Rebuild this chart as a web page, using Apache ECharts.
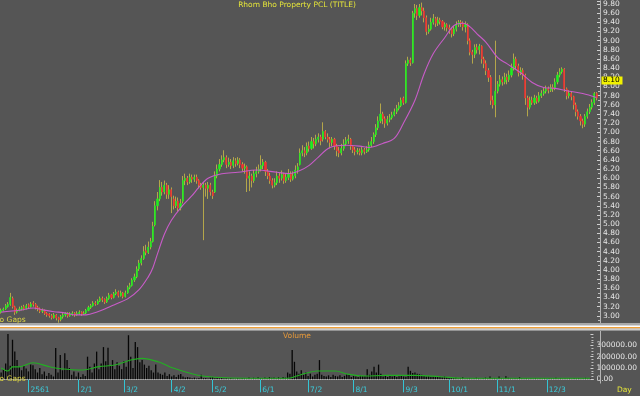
<!DOCTYPE html>
<html><head><meta charset="utf-8">
<script src="https://cdn.jsdelivr.net/npm/echarts@6/dist/echarts.min.js"></script>
<style>html,body{margin:0;padding:0;background:#555555;overflow:hidden}#c{width:640px;height:396px}</style>
</head><body><div id="c"></div>
<script>
const opens=[
3.08,3.12,3.15,3.20,3.25,3.38,3.20,3.08,3.12,3.15,
3.20,3.16,3.24,3.20,3.28,3.25,3.18,3.15,3.10,3.12,
3.05,3.04,3.00,2.96,3.02,2.96,2.92,2.98,3.02,3.05,
3.00,3.04,3.06,3.02,3.05,3.08,3.04,3.06,3.12,3.18,
3.22,3.28,3.26,3.32,3.38,3.36,3.30,3.38,3.46,3.40,
3.48,3.52,3.44,3.50,3.42,3.50,3.62,3.66,3.78,3.85,
4.02,4.15,4.25,4.42,4.38,4.50,4.62,4.98,5.40,5.55,
5.80,5.70,5.85,5.65,5.75,5.55,5.40,5.50,5.35,5.50,
5.95,6.00,5.92,6.02,5.98,6.02,5.95,5.85,5.80,5.85,
5.78,5.85,5.70,5.70,6.05,6.20,6.30,6.40,6.45,6.30,
6.35,6.28,6.38,6.32,6.40,6.30,6.22,6.25,6.00,6.05,
5.95,6.10,6.15,6.20,6.28,6.35,6.15,6.05,5.95,5.85,
5.90,6.05,6.00,6.08,5.95,6.02,6.10,5.98,6.05,6.18,
6.30,6.55,6.60,6.55,6.70,6.65,6.80,6.75,6.85,6.90,
6.85,7.02,6.90,6.85,6.78,6.85,6.70,6.60,6.55,6.65,
6.75,6.82,6.85,6.70,6.62,6.58,6.60,6.55,6.62,6.58,
6.62,6.72,6.80,6.95,7.10,7.25,7.40,7.30,7.20,7.28,
7.32,7.38,7.45,7.52,7.58,7.75,7.65,8.50,8.58,8.52,
9.60,9.70,9.55,9.72,9.65,9.50,9.20,9.25,9.40,9.48,
9.38,9.45,9.42,9.30,9.35,9.28,9.25,9.15,9.25,9.35,
9.40,9.38,9.30,9.35,9.00,8.75,8.70,8.85,8.80,8.88,
8.60,8.50,8.35,8.20,7.70,7.60,7.90,8.05,8.15,8.10,
8.20,8.15,8.25,8.40,8.60,8.45,8.30,8.35,8.25,7.75,
7.55,7.70,7.65,7.75,7.68,7.80,7.85,7.90,7.95,7.92,
7.98,7.95,8.10,8.25,8.32,8.38,7.95,7.80,7.85,7.78,
7.60,7.45,7.35,7.25,7.18,7.35,7.45,7.55,7.65,7.85];
const closes=[
3.12,3.15,3.22,3.25,3.40,3.20,3.08,3.12,3.15,3.18,
3.16,3.22,3.20,3.26,3.25,3.18,3.15,3.10,3.12,3.05,
3.02,3.00,2.96,3.02,2.95,2.92,2.98,3.02,3.05,3.00,
3.04,3.06,3.02,3.05,3.08,3.04,3.06,3.12,3.18,3.22,
3.28,3.26,3.32,3.38,3.35,3.30,3.38,3.45,3.40,3.48,
3.52,3.44,3.50,3.42,3.50,3.62,3.66,3.78,3.85,4.02,
4.15,4.25,4.40,4.38,4.50,4.62,4.95,5.40,5.55,5.80,
5.70,5.85,5.65,5.75,5.60,5.40,5.50,5.35,5.45,5.95,
6.00,5.92,6.02,5.98,6.02,5.95,5.85,5.80,5.85,5.78,
5.85,5.70,5.62,6.05,6.20,6.30,6.40,6.45,6.30,6.35,
6.28,6.38,6.32,6.40,6.30,6.22,6.25,6.00,6.05,5.95,
6.10,6.15,6.20,6.28,6.35,6.15,6.05,5.95,5.85,5.90,
6.05,6.00,6.08,5.95,6.02,6.10,5.98,6.05,6.18,6.25,
6.55,6.60,6.55,6.70,6.65,6.80,6.75,6.85,6.90,6.82,
7.02,6.90,6.85,6.78,6.85,6.70,6.60,6.55,6.65,6.75,
6.82,6.85,6.70,6.62,6.58,6.60,6.55,6.62,6.58,6.62,
6.72,6.80,6.95,7.10,7.25,7.40,7.30,7.20,7.28,7.32,
7.38,7.45,7.52,7.58,7.70,7.65,8.50,8.58,8.52,9.60,
9.70,9.55,9.72,9.65,9.50,9.20,9.25,9.40,9.48,9.38,
9.45,9.42,9.30,9.35,9.28,9.25,9.15,9.25,9.35,9.40,
9.38,9.30,9.35,9.00,8.75,8.70,8.85,8.80,8.88,8.60,
8.50,8.35,8.20,7.70,7.60,7.90,8.05,8.15,8.10,8.20,
8.15,8.25,8.40,8.60,8.45,8.30,8.35,8.25,7.75,7.55,
7.70,7.65,7.75,7.68,7.80,7.85,7.90,7.95,7.92,7.98,
7.95,8.10,8.25,8.32,8.38,7.95,7.80,7.85,7.78,7.60,
7.45,7.35,7.25,7.18,7.35,7.45,7.55,7.65,7.85,7.75];
const highs=[
3.16,3.18,3.26,3.30,3.50,3.42,3.22,3.16,3.20,3.22,
3.24,3.26,3.27,3.30,3.32,3.28,3.22,3.18,3.16,3.14,
3.08,3.06,3.04,3.06,3.04,2.98,3.02,3.06,3.08,3.08,
3.08,3.10,3.08,3.10,3.12,3.10,3.10,3.15,3.22,3.26,
3.32,3.32,3.36,3.42,3.42,3.38,3.42,3.50,3.48,3.52,
3.58,3.55,3.55,3.52,3.55,3.66,3.72,3.82,3.92,4.08,
4.22,4.32,4.52,4.55,4.62,4.70,5.05,5.50,5.70,5.96,
5.92,5.95,5.90,5.85,5.80,5.62,5.60,5.58,5.55,6.05,
6.10,6.05,6.10,6.08,6.08,6.08,5.98,5.90,5.92,5.90,
5.92,5.90,5.75,6.15,6.30,6.42,6.50,6.61,6.50,6.45,
6.42,6.46,6.44,6.46,6.44,6.35,6.32,6.28,6.15,6.10,
6.18,6.25,6.30,6.50,6.42,6.38,6.20,6.12,6.00,6.00,
6.15,6.12,6.17,6.12,6.10,6.20,6.15,6.15,6.28,6.33,
6.65,6.72,6.68,6.78,6.80,6.90,6.88,6.95,6.98,6.95,
7.22,7.05,6.98,6.90,6.90,6.88,6.75,6.68,6.75,6.85,
6.90,6.95,6.88,6.72,6.68,6.66,6.65,6.68,6.66,6.70,
6.80,6.90,7.00,7.18,7.35,7.63,7.45,7.35,7.36,7.40,
7.45,7.52,7.60,7.66,7.76,7.78,8.57,8.65,8.63,9.65,
9.80,9.78,9.80,9.83,9.72,9.55,9.35,9.50,9.58,9.52,
9.52,9.50,9.45,9.40,9.38,9.35,9.28,9.32,9.42,9.45,
9.45,9.42,9.42,9.38,9.05,8.80,8.92,8.93,8.93,8.90,
8.65,8.57,8.40,8.25,7.80,9.00,8.12,8.25,8.22,8.30,
8.28,8.35,8.50,8.72,8.65,8.50,8.42,8.40,8.28,7.80,
7.78,7.78,7.82,7.80,7.88,7.92,7.98,8.02,8.00,8.05,
8.05,8.18,8.32,8.40,8.42,8.40,7.98,7.92,7.90,7.80,
7.65,7.50,7.40,7.30,7.40,7.52,7.62,7.72,7.88,7.88];
const lows=[
3.05,3.10,3.13,3.18,3.22,3.16,3.02,3.05,3.10,3.12,
3.12,3.14,3.16,3.18,3.20,3.14,3.10,3.06,3.06,3.02,
2.98,2.96,2.92,2.94,2.90,2.85,2.88,2.94,2.98,2.96,
2.98,3.00,2.98,3.00,3.02,3.00,3.02,3.04,3.10,3.15,
3.20,3.22,3.24,3.30,3.30,3.26,3.28,3.35,3.36,3.38,
3.45,3.40,3.42,3.38,3.40,3.48,3.58,3.64,3.74,3.82,
3.98,4.10,4.22,4.32,4.35,4.45,4.60,4.95,5.30,5.50,
5.62,5.65,5.55,5.55,5.24,5.32,5.35,5.28,5.30,5.45,
5.85,5.85,5.88,5.90,5.92,5.88,5.78,5.75,4.65,5.60,
5.55,5.62,5.55,5.68,6.00,6.15,6.25,6.35,6.22,6.25,
6.20,6.22,6.25,6.28,6.22,6.15,6.10,5.70,5.72,5.80,
5.90,6.02,6.10,6.15,6.20,6.05,5.98,5.88,5.78,5.80,
5.85,5.90,5.95,5.88,5.90,5.96,5.92,5.95,6.00,6.10,
6.28,6.48,6.46,6.50,6.58,6.62,6.65,6.70,6.78,6.72,
6.80,6.85,6.78,6.65,6.70,6.62,6.48,6.46,6.50,6.60,
6.70,6.75,6.62,6.55,6.50,6.52,6.50,6.50,6.52,6.55,
6.58,6.68,6.75,6.90,7.05,7.20,7.18,7.10,7.15,7.22,
7.28,7.35,7.40,7.48,7.55,7.60,7.63,8.45,8.45,8.50,
9.50,9.45,9.50,9.55,9.40,9.12,9.15,9.22,9.35,9.30,
9.32,9.35,9.25,9.22,9.20,9.15,9.07,9.10,9.20,9.30,
9.30,9.22,9.18,8.92,8.68,8.50,8.62,8.72,8.70,8.50,
8.40,8.25,8.10,7.60,7.52,7.33,7.85,8.00,8.02,8.05,
8.05,8.10,8.20,8.35,8.38,8.22,8.25,8.15,7.60,7.35,
7.50,7.60,7.60,7.62,7.65,7.75,7.80,7.85,7.85,7.88,
7.88,7.92,8.05,8.20,8.28,7.88,7.72,7.74,7.70,7.50,
7.35,7.28,7.15,7.09,7.12,7.30,7.40,7.50,7.60,7.70];
const volumes=[
60000,90000,140000,400000,120000,350000,245000,170000,110000,80000,
120000,95000,70000,130000,125000,90000,60000,100000,45000,70000,
30000,55000,40000,25000,277000,60000,215000,80000,230000,170000,
100000,40000,70000,25000,60000,20000,45000,30000,200000,110000,
60000,140000,245000,90000,140000,285000,160000,280000,120000,170000,
90000,150000,120000,90000,160000,110000,390000,200000,100000,330000,
285000,150000,170000,130000,100000,120000,80000,60000,130000,60000,
50000,40000,60000,30000,45000,25000,35000,20000,40000,47000,
25000,15000,20000,15000,10000,15000,8000,12000,40000,10000,
12000,8000,15000,20000,10000,14000,9000,12000,7000,10000,
6000,12000,8000,5000,10000,7000,12000,9000,6000,15000,
8000,14000,10000,18000,12000,9000,15000,11000,20000,13000,
16000,10000,18000,12000,20000,15000,60000,50000,260000,155000,
70000,50000,80000,40000,60000,30000,50000,25000,40000,50000,
170000,40000,30000,25000,35000,20000,40000,30000,25000,35000,
20000,30000,45000,40000,20000,30000,25000,20000,35000,30000,
30000,90000,40000,70000,110000,60000,130000,50000,25000,30000,
20000,35000,25000,30000,20000,28000,30000,25000,22000,110000,
75000,55000,60000,50000,45000,40000,30000,25000,28000,22000,
25000,20000,30000,22000,18000,25000,20000,15000,18000,12000,
15000,10000,12000,18000,8000,10000,12000,7000,9000,14000,
10000,8000,12000,15000,9000,25000,10000,12000,8000,25000,
11000,7000,28000,14000,9000,8000,12000,10000,18000,9000,
7000,10000,6000,9000,8000,11000,7000,9000,6000,10000,
8000,12000,9000,10000,14000,8000,10000,7000,9000,6000,
10000,8000,12000,9000,11000,8000,10000,13000,9000,7000];
const priceMA=[[0,3.08],[8,3.12],[14,3.17],[18,3.13],[23,3.09],[27,3.07],[33,3.02],[37,3.02],[42,3.09],[46,3.17],[50,3.26],[55,3.37],[60,3.57],[64,3.85],[66,4.05],[68,4.35],[71,4.78],[74,5.08],[78,5.35],[83,5.62],[86,5.80],[90,6.00],[96,6.10],[103,6.13],[111,6.18],[120,6.13],[125,6.10],[130,6.17],[134,6.28],[138,6.46],[143,6.67],[150,6.72],[156,6.70],[160,6.67],[166,6.76],[171,6.87],[175,7.20],[180,7.70],[184,8.28],[188,8.72],[193,9.07],[197,9.33],[201,9.38],[204,9.30],[207,9.15],[211,8.96],[216,8.63],[220,8.50],[226,8.30],[231,8.09],[236,7.98],[241,7.96],[246,7.91],[253,7.85],[259,7.76]];
const volumeMA=[[0,100000],[3,73000],[5,110000],[8,110000],[14,147000],[21,112000],[26,94000],[36,82000],[43,112000],[50,127000],[57,170000],[62,185000],[69,155000],[76,97000],[86,38000],[94,18000],[108,9000],[126,9000],[130,29000],[134,53000],[139,73000],[147,73000],[152,47000],[160,29000],[169,35000],[182,35000],[193,23000],[204,9000],[259,9000]];
const tickIndex=[12,34,54,75,93,114,135,155,177,197,218,240];
const tickLabels=['2561','2/1','3/2','4/2','5/2','6/1','7/2','8/1','9/3','10/1','11/1','12/3'];
const slotCount=261;

const cats=[];for(let i=0;i<slotCount;i++)cats.push(String(i));
const labelMap={};tickIndex.forEach((t,k)=>{labelMap[t]=tickLabels[k];});
const fullCandles=opens.map((o,i)=>[o,closes[i],lows[i],highs[i]]);
const bodies=opens.map((o,i)=>[o,closes[i],Math.min(o,closes[i]),Math.max(o,closes[i])]);
const FONT='DejaVu Sans';
const OLIVE='#b4a64a';
const GREEN='#1ef01e';
const RED='#f03030';
const chart=echarts.init(document.getElementById('c'),null,{renderer:'canvas'});
chart.setOption({
 animation:false,
 backgroundColor:'#555555',
 grid:[{left:0,top:0,width:600,height:325},{left:0,top:334.1,width:600,height:45.2}],
 xAxis:[
  {type:'category',data:cats,gridIndex:0,boundaryGap:true,axisLine:{show:false},axisTick:{show:false},axisLabel:{show:false},splitLine:{show:false}},
  {type:'category',data:cats,gridIndex:1,boundaryGap:true,offset:3.7,
   axisLine:{show:true,lineStyle:{color:'#b4b4b4',width:1}},
   axisTick:{show:true,alignWithLabel:true,length:13,interval:(i)=>labelMap[i]!==undefined,lineStyle:{color:'#34c4d4',width:1}},
   axisLabel:{show:true,interval:(i)=>labelMap[i]!==undefined,formatter:(v,i)=>labelMap[i]||'',color:'#3cccdc',fontFamily:FONT,fontSize:7.5,align:'left',margin:3,padding:[0,0,0,2]},
   splitLine:{show:false}}
 ],
 yAxis:[
  {type:'value',gridIndex:0,position:'right',min:2.8,max:9.87,interval:0.2,
   axisLine:{show:true,lineStyle:{color:'#b4b4b4'}},
   axisTick:{show:true,inside:true,length:3,lineStyle:{color:'#cfcfcf'}},
   minorTick:{show:true,splitNumber:2,length:2,lineStyle:{color:'#bdbdbd'}},
   axisLabel:{color:'#e6e6e6',fontFamily:FONT,fontSize:7.5,margin:3,showMinLabel:false,showMaxLabel:false,formatter:(v)=>v.toFixed(2)},
   splitLine:{show:false}},
  {type:'value',gridIndex:1,position:'right',min:0,max:400000,interval:100000,
   axisLine:{show:false},
   axisTick:{show:true,inside:true,length:3,lineStyle:{color:'#cfcfcf'}},
   minorTick:{show:true,splitNumber:4,length:2,lineStyle:{color:'#bdbdbd'}},
   axisLabel:{color:'#e6e6e6',fontFamily:FONT,fontSize:7.5,margin:3,showMaxLabel:false,formatter:(v)=>v.toFixed(2)},
   splitLine:{show:false}}
 ],
 series:[
  {type:'candlestick',name:'range',xAxisIndex:0,yAxisIndex:0,data:fullCandles,barWidth:1,silent:true,
   itemStyle:{color:OLIVE,color0:OLIVE,borderColor:OLIVE,borderColor0:OLIVE,borderColorDoji:OLIVE,borderWidth:1}},
  {type:'candlestick',name:'body',xAxisIndex:0,yAxisIndex:0,data:bodies,barWidth:1.6,silent:true,
   itemStyle:{color:GREEN,color0:RED,borderColor:GREEN,borderColor0:RED,borderColorDoji:OLIVE,borderWidth:0.6}},
  {type:'line',name:'MA',xAxisIndex:0,yAxisIndex:0,data:priceMA,smooth:0.35,symbol:'none',silent:true,
   lineStyle:{color:'#c85cc8',width:1.1}},
  {type:'bar',name:'Volume',xAxisIndex:1,yAxisIndex:1,data:volumes,barWidth:1.3,silent:true,
   itemStyle:{color:'#060606'}},
  {type:'line',name:'VolMA',xAxisIndex:1,yAxisIndex:1,data:volumeMA,smooth:0.35,symbol:'none',silent:true,
   lineStyle:{color:'#22b022',width:1.1}}
 ],
 graphic:[
  {type:'rect',shape:{x:0,y:323,width:640,height:2},style:{fill:'#a8a8a8'},z:10},
  {type:'rect',shape:{x:0,y:325,width:640,height:1},style:{fill:'#d4d4d4'},z:10},
  {type:'rect',shape:{x:0,y:326,width:640,height:1},style:{fill:'#ffffff'},z:10},
  {type:'rect',shape:{x:0,y:327,width:640,height:1.6},style:{fill:'#f0a038'},z:10},
  {type:'rect',shape:{x:0,y:328.6,width:640,height:1.2},style:{fill:'#ffffff'},z:10},
  {type:'rect',shape:{x:0,y:329.8,width:640,height:1},style:{fill:'#a8a8a8'},z:10},
  {type:'line',shape:{x1:600.5,y1:331,x2:600.5,y2:383.5},style:{stroke:'#b4b4b4',lineWidth:1},z:10},
  {type:'text',x:297,y:1,style:{text:'Rhom Bho Property PCL (TITLE)',fill:'#e4e43a',font:'7.5px "DejaVu Sans"',textAlign:'center',textVerticalAlign:'top'},z:10},
  {type:'text',x:297,y:332,style:{text:'Volume',fill:'#e89a3a',font:'7.5px "DejaVu Sans"',textAlign:'center',textVerticalAlign:'top'},z:10},
  {type:'text',x:-6,y:316,style:{text:'No Gaps',fill:'#dcd444',font:'7.5px "DejaVu Sans"',textVerticalAlign:'top'},z:10},
  {type:'text',x:-6,y:375,style:{text:'No Gaps',fill:'#dcd444',font:'7.5px "DejaVu Sans"',textVerticalAlign:'top'},z:10},
  {type:'text',x:617,y:386,style:{text:'Day',fill:'#e4e43a',font:'7.5px "DejaVu Sans"',textVerticalAlign:'top'},z:10},
  {type:'rect',shape:{x:601.5,y:76.5,width:21,height:8},style:{fill:'#f2f200'},z:20},
  {type:'text',x:603,y:80.5,style:{text:'8.10',fill:'#000000',font:'7.5px "DejaVu Sans"',textVerticalAlign:'middle'},z:21}
 ]
});
</script></body></html>
